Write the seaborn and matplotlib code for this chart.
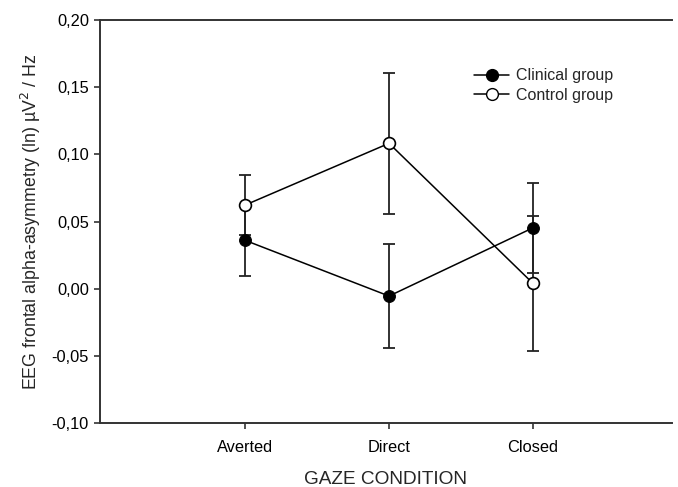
import numpy as np
import pandas as pd
import matplotlib
matplotlib.use("Agg")
import matplotlib.pyplot as plt
import seaborn as sns
from matplotlib.ticker import FuncFormatter

# --- data ---
conditions = ["Averted", "Direct", "Closed"]
clinical_mean = [0.036, -0.0055, 0.0453]
clinical_err = [0.0266, 0.0385, 0.0333]
control_mean = [0.0622, 0.1082, 0.0039]
control_err = [0.0224, 0.0525, 0.0502]

yticks = [-0.10, -0.05, 0.00, 0.05, 0.10, 0.15, 0.20]

sns.set_style("ticks")
plt.rcParams["font.family"] = ["Liberation Sans", "DejaVu Sans"]

df = pd.DataFrame({
    "pos": [1, 2, 3] * 2,
    "value": clinical_mean + control_mean,
    "err": clinical_err + control_err,
    "group": ["Clinical group"] * 3 + ["Control group"] * 3,
})

fig = plt.figure(figsize=(6.78, 4.87), dpi=100)
ax = fig.add_axes([100 / 678, 64 / 487, 572 / 678, 403 / 487])

# error bars first so markers sit on top
for grp, sub in df.groupby("group"):
    ax.errorbar(sub["pos"], sub["value"], yerr=sub["err"], fmt="none",
                ecolor="#222222", elinewidth=1.3, capsize=4.5, capthick=1.3, zorder=2)

sns.lineplot(data=df, x="pos", y="value", hue="group", style="group",
             palette={"Clinical group": "black", "Control group": "black"},
             markers={"Clinical group": "o", "Control group": "o"},
             dashes=False, markersize=8.5, linewidth=1.1, ax=ax, zorder=3,
             legend=False)

# hollow marker for control group
lines = ax.get_lines()
lines[-1].set_markerfacecolor("white")
lines[-1].set_markeredgecolor("black")
lines[-1].set_markeredgewidth(1.2)
lines[-2].set_markerfacecolor("black")
lines[-2].set_markeredgecolor("black")

ax.set_xlim(-0.007, 3.965)
ax.set_ylim(-0.10, 0.20)
ax.set_xticks([1, 2, 3])
ax.set_xticklabels(conditions)
ax.set_yticks(yticks)
ax.yaxis.set_major_formatter(FuncFormatter(lambda v, p: f"{v:.2f}".replace(".", ",")))
ax.tick_params(labelsize=11.8, length=4, width=1.2, color="#333333", labelcolor="black")
ax.tick_params(axis="y", pad=4)
ax.tick_params(axis="x", pad=8)

for side in ["left", "bottom", "top"]:
    ax.spines[side].set_linewidth(1.4)
    ax.spines[side].set_color("#333333")
ax.spines["right"].set_visible(False)

ax.set_ylabel(r"EEG frontal alpha-asymmetry (ln) µV$^2$ / Hz", fontsize=12.8, labelpad=6)
# the reference crops this label at the bottom edge
ax.set_xlabel("GAZE CONDITION", fontsize=13.7, labelpad=12)

# legend
handles = [
    plt.Line2D([], [], color="black", lw=1.1, marker="o", markersize=8.5,
               markerfacecolor="black", markeredgecolor="black"),
    plt.Line2D([], [], color="black", lw=1.1, marker="o", markersize=8.5,
               markerfacecolor="white", markeredgecolor="black"),
]
ax.legend(handles, ["Clinical group", "Control group"], loc="upper left",
          bbox_to_anchor=(0.64, 0.90), frameon=False, fontsize=11.5,
          handlelength=2.2, handletextpad=0.45, labelspacing=0.3, borderpad=0)

fig.savefig("out.png", dpi=100)
